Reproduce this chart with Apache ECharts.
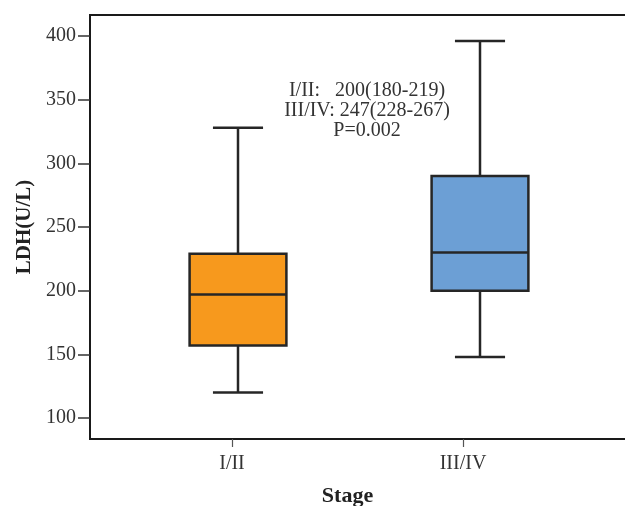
<!DOCTYPE html>
<html><head><meta charset="utf-8">
<script src="https://cdn.jsdelivr.net/npm/echarts@6/dist/echarts.min.js"></script>
<style>html,body{margin:0;padding:0;background:#fff}#c{width:625px;height:506px}</style>
</head><body><div id="c"></div>
<script>
const categories = ['I/II', 'III/IV'];
const lowerWhisker = [120, 148];
const q1 = [157, 200];
const median = [197, 230];
const q3 = [229, 290];
const upperWhisker = [328, 396];
const yMin = 100, yMax = 400, yStep = 50;
const boxColors = ['#F7991D', '#6C9FD5'];
const annotationLines = ['I/II:   200(180-219)', 'III/IV: 247(228-267)', 'P=0.002'];

const data = categories.map((c, i) => [i, lowerWhisker[i], q1[i], median[i], q3[i], upperWhisker[i]]);
const serif = '"Liberation Serif", "DejaVu Serif", serif';
const ink = '#262626';
const chart = echarts.init(document.getElementById('c'));
chart.setOption({
  animation: false,
  grid: [
    {left: 90, top: 15, right: -10, bottom: 67, show: true, borderColor: '#1a1a1a', borderWidth: 2, backgroundColor: 'transparent', containLabel: false, outerBoundsMode: 'none'},
    {left: 117, top: 36, width: 484, height: 382, containLabel: false, outerBoundsMode: 'none'},
    {left: 116.5, top: 15, width: 462, bottom: 67, containLabel: false, outerBoundsMode: 'none'}
  ],
  xAxis: [
    {gridIndex: 0, type: 'value', show: false},
    {gridIndex: 1, type: 'category', data: categories, show: false},
    {gridIndex: 2, type: 'category', data: categories, position: 'bottom',
      axisLine: {show: false, onZero: false},
      axisTick: {show: true, inside: false, alignWithLabel: true, length: 8, lineStyle: {color: '#555', width: 1.2}},
      axisLabel: {margin: 15, fontFamily: serif, fontSize: 20, color: '#333'},
      name: 'Stage', nameLocation: 'middle', nameGap: 46,
      nameTextStyle: {fontFamily: serif, fontSize: 22, fontWeight: 'bold', color: '#222', verticalAlign: 'top'}}
  ],
  yAxis: [
    {gridIndex: 0, type: 'value', show: false},
    {gridIndex: 1, type: 'value', min: yMin, max: yMax, interval: yStep, offset: 27,
      axisLine: {show: false},
      axisTick: {show: true, length: 12, lineStyle: {color: '#333', width: 1.5}},
      axisLabel: {margin: 14, fontFamily: serif, fontSize: 20, color: '#333'},
      splitLine: {show: false},
      name: 'LDH(U/L)', nameLocation: 'middle', nameGap: 55,
      nameTextStyle: {fontFamily: serif, fontSize: 21, fontWeight: 'bold', color: '#222'}},
    {gridIndex: 2, type: 'value', min: 0, max: 1, show: false}
  ],
  graphic: [{
    type: 'text', x: 367, y: 81, z: 10,
    style: {text: annotationLines.join('\n'), align: 'center', verticalAlign: 'top',
      font: '20px "Liberation Serif", serif', lineHeight: 20, fill: '#333'}
  }],
  series: [{
    type: 'custom', xAxisIndex: 1, yAxisIndex: 1, data: data,
    encode: {x: 0, y: [1, 2, 3, 4, 5]},
    renderItem: function (params, api) {
      const idx = api.value(0);
      const band = api.size([1, 0])[0];
      const bw = band * 0.4, cw = band * 0.207;
      const pLo = api.coord([idx, api.value(1)]);
      const pQ1 = api.coord([idx, api.value(2)]);
      const pMed = api.coord([idx, api.value(3)]);
      const pQ3 = api.coord([idx, api.value(4)]);
      const pHi = api.coord([idx, api.value(5)]);
      const x = pLo[0];
      const ls = {stroke: ink, lineWidth: 2.5, fill: null};
      return {type: 'group', children: [
        {type: 'line', shape: {x1: x, y1: pHi[1], x2: x, y2: pQ3[1]}, style: ls},
        {type: 'line', shape: {x1: x, y1: pQ1[1], x2: x, y2: pLo[1]}, style: ls},
        {type: 'line', shape: {x1: x - cw / 2, y1: pHi[1], x2: x + cw / 2, y2: pHi[1]}, style: ls},
        {type: 'line', shape: {x1: x - cw / 2, y1: pLo[1], x2: x + cw / 2, y2: pLo[1]}, style: ls},
        {type: 'rect', shape: {x: x - bw / 2, y: pQ3[1], width: bw, height: pQ1[1] - pQ3[1]},
          style: {fill: boxColors[idx], stroke: ink, lineWidth: 2.5}},
        {type: 'line', shape: {x1: x - bw / 2, y1: pMed[1], x2: x + bw / 2, y2: pMed[1]}, style: ls}
      ]};
    }
  }]
});
</script></body></html>
